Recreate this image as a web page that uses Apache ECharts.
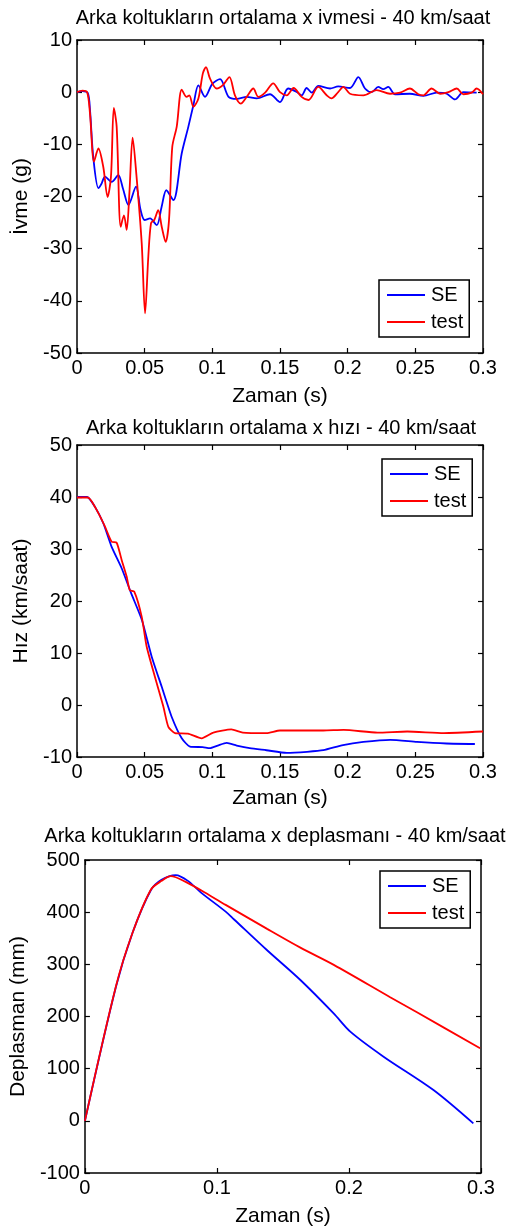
<!DOCTYPE html>
<html>
<head>
	<meta charset="UTF-8">
	<title></title>
	<script src="https://cdn.jsdelivr.net/npm/echarts@6/dist/echarts.min.js"></script>
	<style>html,body{margin:0;padding:0;background:#fff;}</style>
</head>
<body>
	<div id="main" style="width:508px;height:1228px;"></div>
	<script type="text/javascript">
		// values: [time (s), value]
		var accSE = [[0,0],[0.004,0.2],[0.008,-0.2],[0.0096,-3.4],[0.012,-12.4],[0.0158,-18.4],[0.018,-17.6],[0.0207,-16.2],[0.0256,-17.2],[0.0305,-15.9],[0.034,-18.5],[0.038,-21.6],[0.0436,-18.1],[0.047,-22.6],[0.050,-24.5],[0.054,-24.2],[0.0589,-25.5],[0.0625,-22],[0.066,-18.8],[0.0712,-20.7],[0.0774,-11.7],[0.0823,-6.6],[0.086,-2.5],[0.0897,1.3],[0.0946,-0.9],[0.1,1.6],[0.1057,2.5],[0.112,-0.9],[0.118,-1.3],[0.1254,-0.9],[0.1328,-1.2],[0.1426,-0.4],[0.15,-1.9],[0.156,0.7],[0.162,0.1],[0.166,-0.6],[0.1697,0.8],[0.1735,-0.1],[0.1783,1.2],[0.187,0.7],[0.193,1.1],[0.2017,0.8],[0.2079,2.9],[0.2128,0.7],[0.2177,0],[0.2226,1.0],[0.2263,0.6],[0.23,1.0],[0.235,-0.4],[0.246,-0.3],[0.256,-0.7],[0.2658,-0.1],[0.2732,-0.3],[0.2793,-1.4],[0.2855,0],[0.2953,-0.1]];
		var accTest = [[0,0],[0.004,0.3],[0.0075,0],[0.0096,-4.1],[0.0126,-13.3],[0.0158,-10.8],[0.0194,-14.3],[0.0226,-20.1],[0.0251,-16.2],[0.0272,-3.0],[0.0293,-6.6],[0.0323,-25.8],[0.0347,-23.6],[0.0367,-26.4],[0.0387,-19.4],[0.0411,-8.7],[0.044,-16.2],[0.0478,-28.9],[0.0503,-42.4],[0.0527,-31.5],[0.0547,-25.1],[0.0571,-24.5],[0.06,-22.6],[0.0626,-25.8],[0.0655,-28.7],[0.068,-24.5],[0.0704,-10.5],[0.0737,-6.6],[0.0774,0.5],[0.081,-0.9],[0.083,-0.6],[0.086,-2.8],[0.0897,-1.2],[0.093,3.6],[0.0953,4.8],[0.0983,2.6],[0.1032,0.7],[0.108,1.4],[0.1126,2.9],[0.1167,-0.6],[0.121,-2.2],[0.1254,-0.9],[0.1303,0.7],[0.134,-0.9],[0.139,-0.1],[0.145,1.7],[0.15,0],[0.155,-0.6],[0.16,0.8],[0.166,-0.9],[0.171,-1.5],[0.1783,1.0],[0.1845,-0.6],[0.188,-1.2],[0.193,0],[0.1968,1.0],[0.2017,-0.3],[0.2116,-0.6],[0.2214,0.4],[0.2313,-0.3],[0.2387,-0.1],[0.246,0.7],[0.2522,-0.4],[0.2559,-0.6],[0.262,0.7],[0.2683,-0.3],[0.2744,0],[0.2806,0.7],[0.2855,-0.4],[0.2916,-0.1],[0.2953,0.7],[0.3,-0.4]];

		var velSE = [[0,40],[0.0074,40],[0.0133,38.1],[0.0195,34.9],[0.0256,30.4],[0.033,26.3],[0.040,21.5],[0.048,16.3],[0.0552,9.3],[0.0626,3.5],[0.070,-2.3],[0.0774,-6.4],[0.0835,-8.0],[0.093,-8.1],[0.098,-8.3],[0.104,-7.8],[0.1106,-7.3],[0.118,-7.8],[0.1276,-8.3],[0.14,-8.7],[0.155,-9.2],[0.17,-9.0],[0.182,-8.7],[0.1966,-7.7],[0.2116,-7.1],[0.2315,-6.7],[0.2512,-7.1],[0.273,-7.4],[0.294,-7.5]];
		var velTest = [[0,39.9],[0.008,39.9],[0.0158,36.9],[0.0207,34.3],[0.0256,31.4],[0.0293,31.2],[0.033,27.9],[0.0367,24.7],[0.039,22.1],[0.0423,21.8],[0.0478,17.0],[0.0515,11.2],[0.0576,5.4],[0.0638,-0.3],[0.0675,-4.2],[0.0724,-5.4],[0.082,-5.5],[0.0921,-6.4],[0.1007,-5.3],[0.114,-4.7],[0.1225,-5.3],[0.14,-5.4],[0.15,-4.9],[0.182,-4.9],[0.197,-4.8],[0.222,-5.3],[0.244,-5.1],[0.271,-5.4],[0.3,-5.1]];

		var dispSE = [[0,0],[0.0234,256],[0.036,360],[0.0499,442],[0.058,462],[0.0688,471],[0.078,460],[0.0877,438],[0.1066,401],[0.113,386],[0.138,327],[0.1632,270],[0.1884,206],[0.201,171],[0.2262,123],[0.264,59],[0.2942,-5]];
		var dispTest = [[0,0],[0.0234,257],[0.036,360],[0.0499,443],[0.058,460],[0.065,469],[0.0763,458],[0.094,433],[0.1066,414],[0.138,368],[0.1632,332],[0.1885,299],[0.2312,237],[0.2515,208],[0.2993,139]];

		var titles = ['Arka koltukların ortalama x ivmesi - 40 km/saat', 'Arka koltukların ortalama x hızı - 40 km/saat', 'Arka koltukların ortalama x deplasmanı - 40 km/saat'];
		var yNames = ['İvme (g)', 'Hız (km/saat)', 'Deplasman (mm)'];
		var xName = 'Zaman (s)';
		var seriesNames = ['SE', 'test'];

		var font = 'Liberation Sans, Arial, sans-serif';
		var panels = [
			{ grid: { left: 77, top: 40, width: 406, height: 313 }, y: [-50, 10, 10], xi: 0.05, ygap: 42, xgap: 33, title: { x: 278, y: 3 }, legend: { left: 379, top: 280 }, se: accSE, test: accTest, smooth: 0.3 },
			{ grid: { left: 77, top: 445, width: 406, height: 312 }, y: [-10, 50, 10], xi: 0.05, ygap: 42, xgap: 31, title: { x: 276, y: 413 }, legend: { left: 382, top: 459 }, se: velSE, test: velTest, smooth: 0.2 },
			{ grid: { left: 84, top: 860, width: 397, height: 313 }, y: [-100, 500, 100], xi: 0.1, ygap: 49, xgap: 33, title: { x: 270, y: 821 }, legend: { left: 380, top: 871 }, se: dispSE, test: dispTest, smooth: 0.3 }
		];

		var axisLine = { show: true, onZero: false, lineStyle: { color: '#000', width: 1.5 } };
		var tick = { show: true, inside: true, length: 5, lineStyle: { color: '#000', width: 1.2 } };

		var option = { animation: false, backgroundColor: '#fff', title: [], grid: [], xAxis: [], yAxis: [], legend: [], series: [] };

		panels.forEach(function (p, i) {
			option.grid.push(p.grid);
			option.title.push({
				text: titles[i], left: p.title.x, top: p.title.y, textAlign: 'center',
				textStyle: { fontFamily: font, fontSize: 20, fontWeight: 'normal', color: '#000' }
			});
			var xa = {
				type: 'value', gridIndex: i, min: 0, max: 0.3, interval: p.xi,
				axisLine: axisLine, axisTick: tick, splitLine: { show: false }
			};
			option.xAxis.push(Object.assign({}, xa, {
				position: 'bottom', name: xName, nameLocation: 'middle', nameGap: p.xgap,
				nameTextStyle: { fontFamily: font, fontSize: 21, color: '#000' },
				axisLabel: { margin: 5, fontFamily: font, fontSize: 20, color: '#000',
					formatter: function (v) { return String(+v.toFixed(2)); } }
			}));
			option.xAxis.push(Object.assign({}, xa, { position: 'top', axisLabel: { show: false } }));
			var ya = {
				type: 'value', gridIndex: i, min: p.y[0], max: p.y[1], interval: p.y[2],
				axisLine: axisLine, axisTick: tick, splitLine: { show: false }
			};
			option.yAxis.push(Object.assign({}, ya, {
				position: 'left', name: yNames[i], nameLocation: 'middle', nameGap: p.ygap,
				nameTextStyle: { fontFamily: font, fontSize: 21, color: '#000' },
				axisLabel: { margin: 5, fontFamily: font, fontSize: 20, color: '#000' }
			}));
			option.yAxis.push(Object.assign({}, ya, { position: 'right', axisLabel: { show: false } }));

			option.legend.push({
				orient: 'vertical', left: p.legend.left, top: p.legend.top,
				data: seriesNames, icon: 'rect', itemWidth: 38, itemHeight: 2, itemGap: 7,
				padding: [5, 6, 5, 8], backgroundColor: '#fff', borderColor: '#000', borderWidth: 1.5,
				borderRadius: 0, selectedMode: false,
				textStyle: { fontFamily: font, fontSize: 20, color: '#000', lineHeight: 20, padding: [0, 0, 0, 1] }
			});

			[p.se, p.test].forEach(function (d, k) {
				option.series.push({
					name: seriesNames[k], type: 'line', data: d,
					xAxisIndex: i * 2, yAxisIndex: i * 2,
					showSymbol: false, smooth: p.smooth,
					color: k === 0 ? '#0000ff' : '#ff0000',
					lineStyle: { width: 1.8, color: k === 0 ? '#0000ff' : '#ff0000' },
					z: 2 + k
				});
			});
		});

		var myChart = echarts.init(document.getElementById('main'));
		myChart.setOption(option);
	</script>
</body>
</html>
